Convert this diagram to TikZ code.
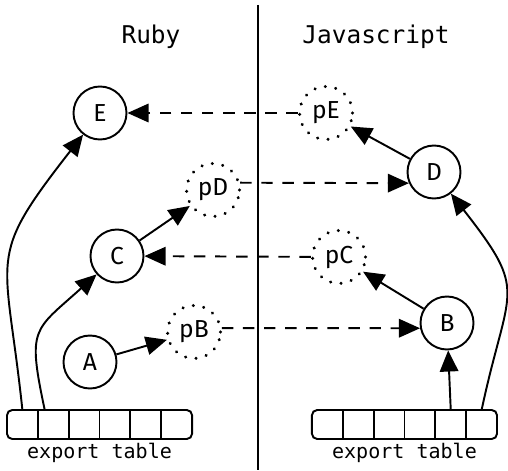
\documentclass[tikz,border=0pt]{standalone}
\usepackage{fontspec}
\setmainfont{Fira Sans}
\setmonofont{DejaVu Sans Mono}
\newfontfamily\labelfont{Fira Sans}
\usetikzlibrary{positioning}
\usetikzlibrary{arrows.meta}

\tikzset{
	obj/.style={circle, draw, line width=1.1pt, minimum size=1.06cm, inner sep=0pt, font=\labelfont\fontsize{14}{16}\selectfont},
	proxy/.style={obj, line width=1.9pt, line cap=round, dash pattern=on 0.01pt off 6pt},
	ref/.style={-{Triangle[length=12pt,width=10.5pt]}, line width=1.1pt},
	xref/.style={ref, dash pattern=on 6.5pt off 5.5pt},
	cell/.style={minimum width=0.617cm, minimum height=0.58cm, inner sep=0pt, outer sep=0pt},
	title/.style={font=\ttfamily\fontsize{13.9}{16}\selectfont},
	tabtext/.style={font=\ttfamily\fontsize{11.4}{13}\selectfont}
}

\begin{document}
\begin{tikzpicture}
		\useasboundingbox (0,0) rectangle (10.16,9.4);

		% the two worlds
		\coordinate (top) at (5.16,9.3);
		\coordinate (bot) at (5.16,0);
		\draw[line width=1.1pt] (top) -- (bot);
		\node[title] (ruby) at (3.02,8.66) {Ruby};
		\node[title] (js) at (7.52,8.66) {Javascript};

		% objects and proxies
		\node[obj] (E) at (2.00,7.14) {E};
		\node[obj] (C) at (2.34,4.28) {C};
		\node[obj] (A) at (1.80,2.16) {A};
		\node[proxy] (pD) at (4.26,5.60) {pD};
		\node[proxy] (pB) at (3.88,2.76) {pB};

		\node[proxy] (pE) at (6.52,7.14) {pE};
		\node[proxy] (pC) at (6.78,4.26) {pC};
		\node[obj] (D) at (8.68,5.96) {D};
		\node[obj] (B) at (8.94,2.94) {B};

		% export tables
		\node[cell] (lt1) at (0.448,0.91) {};
		\node[cell] (rt1) at (6.547,0.91) {};
		\foreach \i [count=\j from 1] in {2,...,6} {
			\node[cell, right=0pt of lt\j] (lt\i) {};
			\node[cell, right=0pt of rt\j] (rt\i) {};
		}
		\draw[line width=1.1pt, rounded corners=3pt] (lt1.south west) rectangle (lt6.north east);
		\draw[line width=1.1pt, rounded corners=3pt] (rt1.south west) rectangle (rt6.north east);
		\foreach \i in {1,...,5} {
			\draw[line width=1.1pt] (lt\i.north east) -- (lt\i.south east);
			\draw[line width=1.1pt] (rt\i.north east) -- (rt\i.south east);
		}
		\node[tabtext, anchor=base] (ltname) at ([yshift=-3.8mm]lt3.south east) {export table};
		\node[tabtext, anchor=base] (rtname) at ([yshift=-3.8mm]rt3.south east) {export table};

		% references
		\path[ref] (lt1.north) edge[out=96, in=232, looseness=1.45] (E);
		\path[ref] ([xshift=-1.7mm]lt2.north) edge[out=102, in=222, looseness=1.5] (C);
		\path[ref] (rt6.north) edge[out=78, in=-52, looseness=1.5] (D);
		\path[ref] (rt5.north) edge (B);

		\path[ref] (A) edge (pB);
		\path[ref] (C) edge (pD);
		\path[ref] (D) edge (pE);
		\path[ref] (B) edge (pC);

		\path[xref] (pD.15) edge (D.204);
		\path[xref] (pE) edge (E);
		\path[xref] (pC) edge (C);
		\path[xref] (pB.8) edge (B.191);
	\end{tikzpicture}
\end{document}
